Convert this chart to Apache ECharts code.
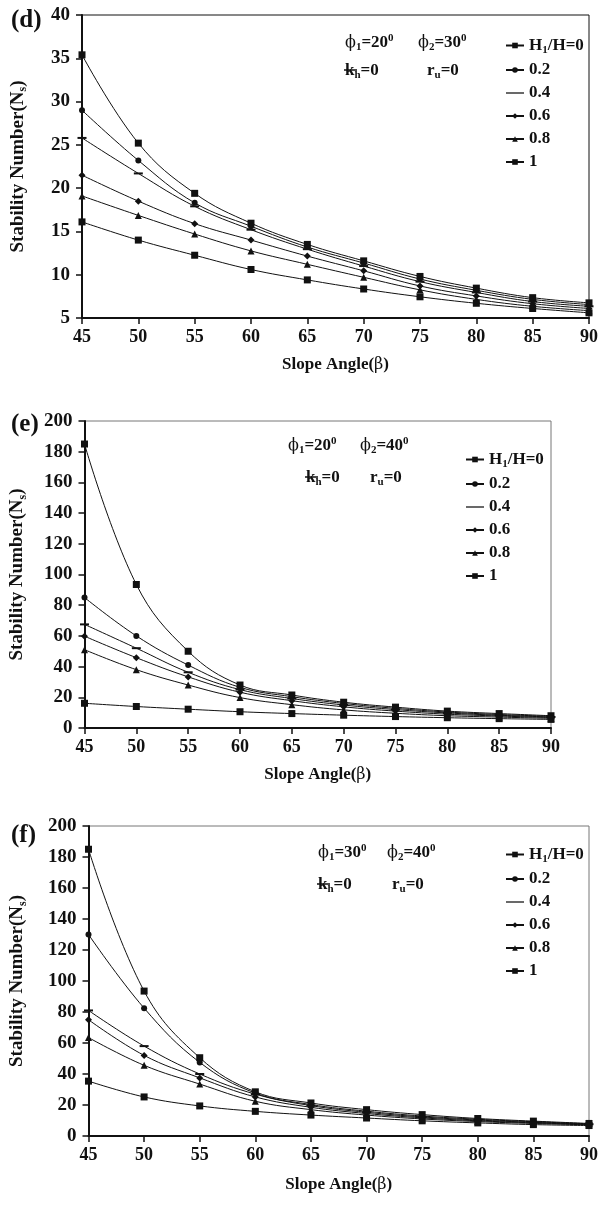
<!DOCTYPE html>
<html>
<head>
<meta charset="utf-8">
<script src="https://cdn.jsdelivr.net/npm/echarts@6/dist/echarts.min.js"></script>
<style>
  html, body { margin: 0; padding: 0; background: #fff; }
  .panel { position: absolute; left: 0; width: 601px; }
</style>
</head>
<body>
<div id="pd" class="panel" style="top:0; height:390px;"></div>
<div id="pe" class="panel" style="top:390px; height:400px;"></div>
<div id="pf" class="panel" style="top:790px; height:420px;"></div>

<script>
// slope angle (x) and the six H1/H curves
const slopeAngles = [45, 50, 55, 60, 65, 70, 75, 80, 85, 90];
const seriesNames = ['H1/H=0', '0.2', '0.4', '0.6', '0.8', '1'];

// (d) phi1=20, phi2=30
const d_h0  = [35.4, 25.2, 19.4, 15.95, 13.5, 11.6, 9.8, 8.45, 7.35, 6.75];
const d_h02 = [29.0, 23.2, 18.3, 15.6, 13.2, 11.35, 9.5, 8.2, 7.15, 6.55];
const d_h04 = [25.8, 21.7, 17.9, 15.2, 12.95, 11.0, 9.2, 7.95, 6.9, 6.35];
const d_h06 = [21.5, 18.5, 15.9, 14.0, 12.15, 10.45, 8.7, 7.55, 6.65, 6.1];
const d_h08 = [19.1, 16.85, 14.7, 12.75, 11.2, 9.7, 8.25, 7.15, 6.35, 5.85];
const d_h1  = [16.1, 14.0, 12.25, 10.6, 9.4, 8.35, 7.45, 6.7, 6.1, 5.6];

// (e) phi1=20, phi2=40
const e_h0  = [185, 93.5, 50, 28, 21.5, 16.8, 13.6, 11.0, 9.4, 8.0];
const e_h02 = [85, 60, 41, 26.5, 20.4, 16.0, 12.8, 10.4, 8.8, 7.6];
const e_h04 = [67.5, 52, 36.3, 25, 19.2, 15.0, 12.0, 9.8, 8.3, 7.2];
const e_h06 = [59.8, 45.8, 33.3, 23.3, 17.8, 13.8, 11.0, 9.0, 7.8, 6.8];
const e_h08 = [51, 38, 28, 19.8, 15.2, 11.8, 9.6, 8.0, 7.1, 6.3];
const e_h1  = [16.1, 14.0, 12.25, 10.6, 9.4, 8.35, 7.45, 6.7, 6.1, 5.6];

// (f) phi1=30, phi2=40
const f_h0  = [185, 93.5, 50.5, 28.5, 21.3, 17.0, 13.8, 11.3, 9.6, 8.1];
const f_h02 = [130, 82.5, 47.5, 27.7, 20.3, 16.0, 12.9, 10.8, 9.2, 7.9];
const f_h04 = [81, 58, 40, 27, 19.6, 15.3, 12.3, 10.3, 8.8, 7.6];
const f_h06 = [75, 52, 37.5, 25.2, 18.5, 14.5, 11.7, 9.8, 8.5, 7.4];
const f_h08 = [63.5, 45.6, 33.5, 22.4, 17, 13.5, 11, 9.3, 8.1, 7.2];
const f_h1  = [35.4, 25.2, 19.4, 15.9, 13.5, 11.6, 9.8, 8.45, 7.35, 6.75];

const FONT = 'Liberation Serif';
const INK = '#111';
const DASH = 'path://M0,0H10V2H0Z';

// marker per curve
const markers = [
  { symbol: 'rect', size: 7 },
  { symbol: 'circle', size: 6 },
  { symbol: DASH, size: [9, 2] },
  { symbol: 'diamond', size: 7 },
  { symbol: 'triangle', size: 7 },
  { symbol: 'rect', size: 7 }
];

const boldRich = {
  b: { fontFamily: FONT, fontWeight: 'bold', fontSize: 17, color: INK },
  s: { fontFamily: FONT, fontWeight: 'bold', fontSize: 11, color: INK, padding: [9, 0, 0, 0] },
  u: { fontFamily: FONT, fontWeight: 'bold', fontSize: 11, color: INK, padding: [0, 0, 9, 0] },
  g: { fontFamily: 'DejaVu Serif', fontSize: 16, color: INK },
  B: { fontFamily: FONT, fontWeight: 'bold', fontSize: 19, color: INK },
  S: { fontFamily: FONT, fontWeight: 'bold', fontSize: 12, color: INK, padding: [10, 0, 0, 0] }
};

function noteText(x, y, txt) {
  return { type: 'text', left: x, top: y, style: { text: txt, rich: boldRich, fill: INK } };
}

function drawPanel(id, p) {
  const chart = echarts.init(document.getElementById(id));
  const lists = p.data;
  chart.setOption({
    animation: false,
    title: {
      text: p.tag, left: 6, top: p.tagTop,
      textStyle: { fontFamily: FONT, fontWeight: 'bold', fontSize: 25, color: INK }
    },
    grid: { left: p.left, right: p.right, top: p.top, bottom: p.bottom, show: true, borderColor: p.border, borderWidth: 1 },
    legend: {
      orient: 'vertical', left: p.legendLeft, top: p.legendTop,
      itemWidth: 18, itemHeight: 7, itemGap: 6, selectedMode: false,
      // the 0.4 curve has a dash marker, shown as a plain line in the key
      data: seriesNames.map(function (n) {
        return n === '0.4' ? { name: n, icon: 'path://M0,0H20V1.4H0Z' } : n;
      }),
      formatter: function (name) {
        return name === 'H1/H=0' ? '{b|H}{s|1}{b|/H=0}' : '{b|' + name + '}';
      },
      textStyle: { rich: boldRich }
    },
    xAxis: {
      type: 'value', min: 45, max: 90, interval: 5,
      name: '{b|Slope Angle(}{g|β}{b|)}', nameLocation: 'middle', nameGap: p.xNameGap,
      nameTextStyle: { rich: boldRich },
      axisLine: { lineStyle: { color: INK, width: 2 } },
      axisTick: { length: 6, lineStyle: { color: INK, width: 1.5 } },
      axisLabel: { fontFamily: FONT, fontWeight: 'bold', fontSize: 18, color: INK, margin: 10 },
      splitLine: { show: false }
    },
    yAxis: {
      type: 'value', min: p.ymin, max: p.ymax, interval: p.yint,
      name: '{B|Stability Number(N}{S|s}{B|)}', nameLocation: 'middle', nameGap: p.yNameGap,
      nameTextStyle: { rich: boldRich },
      axisLine: { show: true, lineStyle: { color: INK, width: 2 } },
      axisTick: { show: true, length: 6, lineStyle: { color: INK, width: 1.5 } },
      axisLabel: { fontFamily: FONT, fontWeight: 'bold', fontSize: 19, color: INK, margin: 12 },
      splitLine: { show: false }
    },
    series: seriesNames.map(function (name, i) {
      return {
        name: name, type: 'line', smooth: 0.4,
        data: slopeAngles.map(function (a, j) { return [a, lists[i][j]]; }),
        symbol: markers[i].symbol, symbolSize: markers[i].size, showAllSymbol: true,
        lineStyle: { color: INK, width: 1 },
        itemStyle: { color: INK, borderWidth: 0 }
      };
    }),
    graphic: p.notes
  });
  return chart;
}

drawPanel('pd', {
  tag: '(d)', tagTop: 3,
  left: 82, right: 8, top: 15, bottom: 72, border: INK,
  ymin: 5, ymax: 40, yint: 5, yNameGap: 53, xNameGap: 38,
  legendLeft: 500, legendTop: 32,
  data: [d_h0, d_h02, d_h04, d_h06, d_h08, d_h1],
  notes: [
    noteText(345, 33, '{g|ϕ}{s|1}{b|=20}{u|0}'),
    noteText(418, 33, '{g|ϕ}{s|2}{b|=30}{u|0}'),
    noteText(345, 62, '{b|k}{s|h}{b|=0}'),
    noteText(427, 62, '{b|r}{s|u}{b|=0}'),
    { type: 'line', shape: { x1: 344, y1: 70, x2: 357, y2: 70 }, style: { stroke: INK, lineWidth: 1.5 } }
  ]
});

drawPanel('pe', {
  tag: '(e)', tagTop: 17,
  left: 84, right: 50, top: 31, bottom: 62, border: '#777',
  ymin: 0, ymax: 200, yint: 20, yNameGap: 56, xNameGap: 38,
  legendLeft: 460, legendTop: 56,
  data: [e_h0, e_h02, e_h04, e_h06, e_h08, e_h1],
  notes: [
    noteText(288, 46, '{g|ϕ}{s|1}{b|=20}{u|0}'),
    noteText(360, 46, '{g|ϕ}{s|2}{b|=40}{u|0}'),
    noteText(306, 79, '{b|k}{s|h}{b|=0}'),
    noteText(370, 79, '{b|r}{s|u}{b|=0}'),
    { type: 'line', shape: { x1: 305, y1: 87, x2: 318, y2: 87 }, style: { stroke: INK, lineWidth: 1.5 } }
  ]
});

drawPanel('pf', {
  tag: '(f)', tagTop: 28,
  left: 88, right: 9, top: 36, bottom: 74, border: '#777',
  ymin: 0, ymax: 200, yint: 20, yNameGap: 60, xNameGap: 40,
  legendLeft: 500, legendTop: 51,
  data: [f_h0, f_h02, f_h04, f_h06, f_h08, f_h1],
  notes: [
    noteText(318, 53, '{g|ϕ}{s|1}{b|=30}{u|0}'),
    noteText(387, 53, '{g|ϕ}{s|2}{b|=40}{u|0}'),
    noteText(318, 86, '{b|k}{s|h}{b|=0}'),
    noteText(392, 86, '{b|r}{s|u}{b|=0}'),
    { type: 'line', shape: { x1: 317, y1: 94, x2: 330, y2: 94 }, style: { stroke: INK, lineWidth: 1.5 } }
  ]
});
</script>
</body>
</html>
